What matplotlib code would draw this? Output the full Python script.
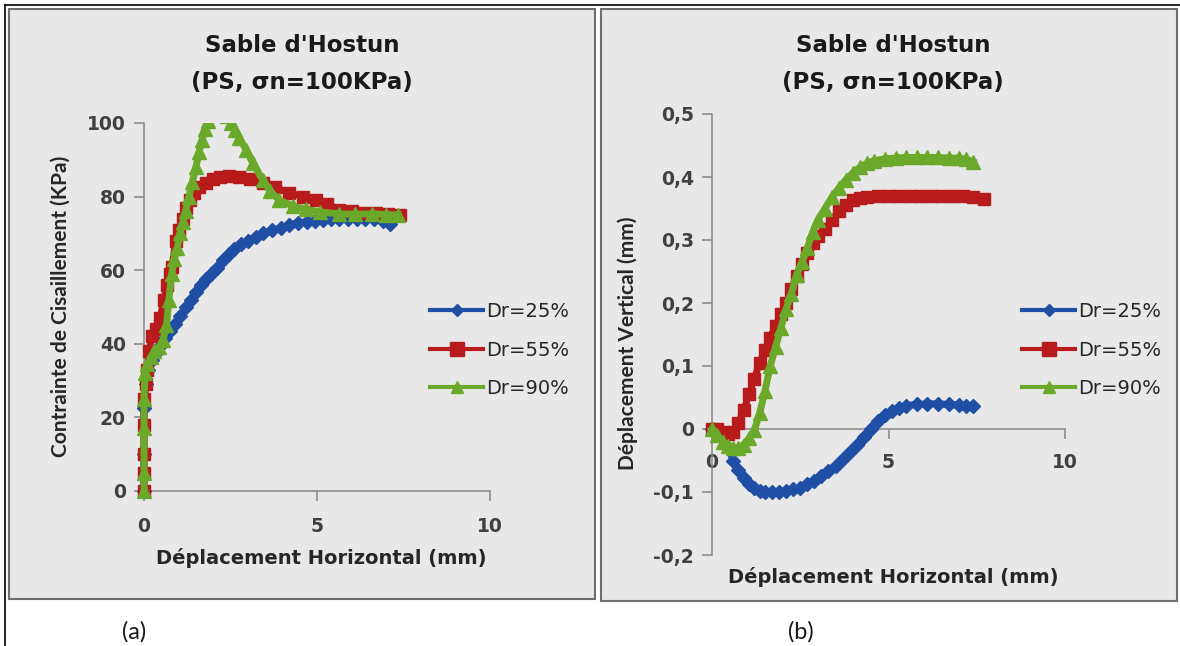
import matplotlib
matplotlib.use("Agg")
import matplotlib.pyplot as plt
from matplotlib.patches import Rectangle
from matplotlib.lines import Line2D

# ---------------- data ----------------
series_labels = ["Dr=25%", "Dr=55%", "Dr=90%"]

# (a) shear stress vs horizontal displacement
a_x25 = [0, 0, 0, 0.05, 0.12, 0.22, 0.34, 0.47, 0.6, 0.75, 0.9, 1.05, 1.2, 1.35, 1.5, 1.65, 1.8, 1.95,
         2.1, 2.27, 2.45, 2.6, 2.8, 3.0, 3.24, 3.45, 3.7, 3.95, 4.2, 4.45, 4.7, 4.95, 5.17, 5.4, 5.65,
         5.9, 6.15, 6.4, 6.65, 6.9, 7.1]
a_y25 = [0, 10, 22.5, 29, 33, 35.5, 37.5, 39.5, 41.5, 43.5, 45.5, 47.5, 50, 52, 54, 56, 57.5, 59,
         60.5, 62.8, 64.5, 65.8, 67, 68, 69, 70, 70.8, 71.5, 72.3, 72.8, 73.2, 73.5, 73.6, 73.8, 74,
         74, 74, 74, 73.8, 73.5, 72.5]
a_x55 = [0, 0, 0, 0, 0, 0.05, 0.1, 0.15, 0.23, 0.35, 0.47, 0.57, 0.67, 0.75, 0.81, 0.92, 1.02, 1.12,
         1.22, 1.32, 1.45, 1.6, 1.79, 2.0, 2.2, 2.45, 2.75, 3.05, 3.43, 3.8, 4.2, 4.6, 4.98, 5.3, 5.65,
         6.0, 6.35, 6.7, 7.05, 7.4]
a_y55 = [0, 5, 10, 18, 25, 29, 33, 38, 42, 44, 47, 52, 56, 59, 61, 68, 71, 74,
         77, 79, 81, 82.5, 83.6, 84.8, 85.3, 85.5, 85.4, 84.7, 83.6, 82.5, 81, 80, 79, 78, 76.4,
         76, 75.5, 75.5, 75.3, 75]
a_x90 = [0, 0, 0, 0, 0.03, 0.1, 0.2, 0.3, 0.43, 0.55, 0.65, 0.72, 0.8, 0.88, 0.96, 1.04, 1.12, 1.2,
         1.3, 1.4, 1.5, 1.59, 1.68, 1.76, 1.84, 1.95, 2.1, 2.25, 2.4, 2.51, 2.62, 2.75, 2.95, 3.15,
         3.43, 3.65, 3.91, 4.3, 4.69, 5.1, 5.65, 6.1, 6.6, 7.0, 7.33]
a_y90 = [0, 5, 17, 25, 32, 34.5, 36.5, 38, 39, 41, 45, 52, 59, 63, 66, 70, 73, 76,
         80, 84, 88, 92, 95.5, 98.5, 100.5, 103, 105, 104, 102, 100, 98, 96, 92.7, 89,
         84.5, 81.5, 79, 77.5, 76.5, 75.8, 75.3, 75.2, 75.3, 75.1, 75]

# (b) vertical displacement vs horizontal displacement
b_x25 = [0, 0.15, 0.3, 0.45, 0.6, 0.75, 0.9, 1.05, 1.2, 1.35, 1.5, 1.7, 1.9, 2.1, 2.3, 2.5, 2.7, 2.9,
         3.1, 3.3, 3.5, 3.7, 3.9, 4.1, 4.3, 4.5, 4.7, 4.9, 5.1, 5.3, 5.5, 5.8, 6.1, 6.4, 6.7, 7.0,
         7.2, 7.4]
b_y25 = [0, -0.005, -0.015, -0.03, -0.05, -0.065, -0.078, -0.088, -0.094, -0.098, -0.1, -0.1, -0.1,
         -0.098, -0.096, -0.093, -0.088, -0.082, -0.075, -0.067, -0.058, -0.048, -0.037, -0.025,
         -0.012, 0.0, 0.012, 0.022, 0.029, 0.034, 0.037, 0.039, 0.04, 0.04, 0.039, 0.038, 0.037, 0.036]
b_x55 = [0, 0.15, 0.3, 0.45, 0.6, 0.75, 0.9, 1.05, 1.2, 1.35, 1.5, 1.65, 1.8, 1.95, 2.1, 2.25, 2.4,
         2.55, 2.7, 2.85, 3.0, 3.2, 3.4, 3.6, 3.8, 4.0, 4.2, 4.4, 4.7, 5.0, 5.3, 5.6, 5.9, 6.2, 6.5,
         6.8, 7.1, 7.4, 7.7]
b_y55 = [0, 0.0, -0.004, -0.008, -0.005, 0.01, 0.03, 0.055, 0.08, 0.105, 0.125, 0.145, 0.163, 0.182,
         0.2, 0.222, 0.243, 0.262, 0.28, 0.295, 0.306, 0.318, 0.332, 0.346, 0.356, 0.363, 0.367,
         0.369, 0.37, 0.37, 0.37, 0.37, 0.37, 0.37, 0.37, 0.37, 0.37, 0.368, 0.365]
b_x90 = [0, 0.15, 0.3, 0.45, 0.6, 0.75, 0.9, 1.05, 1.2, 1.35, 1.5, 1.65, 1.8, 1.95, 2.1, 2.25, 2.4,
         2.55, 2.7, 2.85, 3.0, 3.2, 3.4, 3.6, 3.8, 4.0, 4.2, 4.4, 4.6, 4.9, 5.2, 5.5, 5.8, 6.1, 6.4,
         6.7, 7.0, 7.2, 7.4]
b_y90 = [0, -0.01, -0.02, -0.027, -0.03, -0.03, -0.025, -0.015, -0.002, 0.025, 0.06, 0.1, 0.13, 0.16,
         0.19, 0.215, 0.245, 0.265, 0.287, 0.312, 0.332, 0.35, 0.368, 0.383, 0.396, 0.407, 0.416,
         0.422, 0.426, 0.429, 0.43, 0.431, 0.431, 0.431, 0.431, 0.43, 0.43, 0.428, 0.424]

a_xticks = [0, 5, 10]
a_yticks = [0, 20, 40, 60, 80, 100]
b_xticks = [0, 5, 10]
b_yticks = [-0.2, -0.1, 0, 0.1, 0.2, 0.3, 0.4, 0.5]
b_yticklabels = ["-0,2", "-0,1", "0", "0,1", "0,2", "0,3", "0,4", "0,5"]

title_l1 = "Sable d'Hostun"
title_l2 = "(PS, σn=100KPa)"
a_ylabel = "Contrainte de Cisaillement (KPa)"
b_ylabel = "Déplacement Vertical (mm)"
xlabel = "Déplacement Horizontal (mm)"

# ---------------- style ----------------
colors = ["#1f4ea5", "#b81b1c", "#6aa92a"]
markers = ["D", "s", "^"]
msizes = [7, 8, 9.5]
leg_msizes = [6.5, 10, 8.5]
BG = "#e8e8e8"
AXC = "#868686"
TICKC = "#404040"
HFONT = ["DejaVu Sans"]
VFONT = ["Lato", "DejaVu Sans"]

W, H = 1180, 646
fig = plt.figure(figsize=(11.8, 6.46), dpi=100)
fig.patch.set_facecolor("white")


def fx(px):
    return px / W


def fy(py):
    return 1 - py / H


# panels
for (x0, y0, x1, y1) in [(9, 9, 595, 599), (601, 9, 1177, 601)]:
    fig.add_artist(Rectangle((fx(x0), fy(y1)), (x1 - x0) / W, (y1 - y0) / H,
                             transform=fig.transFigure, facecolor=BG,
                             edgecolor="#6f6f6f", lw=1.5, zorder=0))
# outer frame lines
fig.add_artist(Line2D([fx(5), fx(5)], [fy(646), fy(5)], color="black", lw=1.2,
                      transform=fig.transFigure))
fig.add_artist(Line2D([fx(5), fx(1180)], [fy(5), fy(5)], color="black", lw=1.2,
                      transform=fig.transFigure))


def style_axes(ax):
    ax.set_facecolor("none")
    for s in ["top", "right"]:
        ax.spines[s].set_visible(False)
    for s in ["left", "bottom"]:
        ax.spines[s].set_color(AXC)
        ax.spines[s].set_linewidth(1.1)
    ax.tick_params(axis="both", direction="out", length=7, width=1.1, color=AXC,
                   labelcolor=TICKC)
    ax.tick_params(axis="y", pad=6)
    for lab in ax.get_xticklabels() + ax.get_yticklabels():
        lab.set_family(HFONT)
        lab.set_fontweight("bold")
        lab.set_fontsize(13.5)


# ---------------- (a) ----------------
axA = fig.add_axes([fx(144), fy(491), (490 - 144) / W, (491 - 123) / H])
axA.set_xlim(0, 10)
axA.set_ylim(0, 100)
axA.set_xticks(a_xticks)
axA.set_yticks(a_yticks)
style_axes(axA)
axA.tick_params(axis="x", pad=12)
clipA = Rectangle((-0.1, -0.1), 1.2, 1.1, transform=axA.transAxes)
for xs, ys, c, m, ms in zip([a_x25, a_x55, a_x90], [a_y25, a_y55, a_y90], colors, markers, msizes):
    ln, = axA.plot(xs, ys, color=c, lw=5, marker=m, ms=ms, mec=c, mfc=c, zorder=3,
                   solid_joinstyle="round")
    ln.set_clip_path(clipA)

# ---------------- (b) ----------------
axB = fig.add_axes([fx(712), fy(555), (1065 - 712) / W, (555 - 114) / H])
axB.set_xlim(0, 10)
axB.set_ylim(-0.2, 0.5)
axB.set_xticks(b_xticks)
axB.set_yticks(b_yticks)
axB.set_yticklabels(b_yticklabels)
axB.spines["bottom"].set_position(("data", 0))
style_axes(axB)
axB.tick_params(axis="x", pad=10)
for xs, ys, c, m, ms in zip([b_x25, b_x55, b_x90], [b_y25, b_y55, b_y90], colors, markers, msizes):
    axB.plot(xs, ys, color=c, lw=5, marker=m, ms=ms, mec=c, mfc=c, zorder=3, clip_on=False,
             solid_joinstyle="round")

# ---------------- texts ----------------
for cx in (302, 893):
    fig.text(fx(cx), fy(45), title_l1, ha="center", va="center", family=HFONT,
             fontweight="bold", fontsize=16.5, color="#1a1a1a")
    fig.text(fx(cx), fy(82), title_l2, ha="center", va="center", family=HFONT,
             fontweight="bold", fontsize=16.5, color="#1a1a1a")

fig.text(fx(321), fy(558), xlabel, ha="center", va="center", family=HFONT,
         fontweight="bold", fontsize=14, color="#262626")
fig.text(fx(893), fy(577), xlabel, ha="center", va="center", family=HFONT,
         fontweight="bold", fontsize=14, color="#262626")
fig.text(fx(61), fy(306), a_ylabel, ha="center", va="center", rotation=90, family=VFONT,
         fontweight="bold", fontsize=15, color="#262626")
fig.text(fx(628), fy(343), b_ylabel, ha="center", va="center", rotation=90, family=VFONT,
         fontweight="bold", fontsize=15, color="#262626")

fig.text(fx(134), fy(632), "(a)", ha="center", va="center", family=VFONT, fontsize=17,
         color="#1a1a1a")
fig.text(fx(801), fy(632), "(b)", ha="center", va="center", family=VFONT, fontsize=17,
         color="#1a1a1a")

# legends
leg_handles = [Line2D([], [], color=c, lw=3, marker=m, ms=ms, mec=c, mfc=c)
               for c, m, ms in zip(colors, markers, leg_msizes)]
for lx in (430, 1022):
    leg = fig.legend(handles=leg_handles, labels=series_labels, loc="center left",
                     bbox_to_anchor=(fx(lx), fy(350)), bbox_transform=fig.transFigure,
                     frameon=False, numpoints=1, handlelength=2.75, handletextpad=0.15,
                     labelspacing=1.0, borderpad=0, borderaxespad=0,
                     prop={"family": HFONT, "size": 14})
    for t in leg.get_texts():
        t.set_color("#262626")

fig.savefig("out.png", dpi=100, facecolor="white")
